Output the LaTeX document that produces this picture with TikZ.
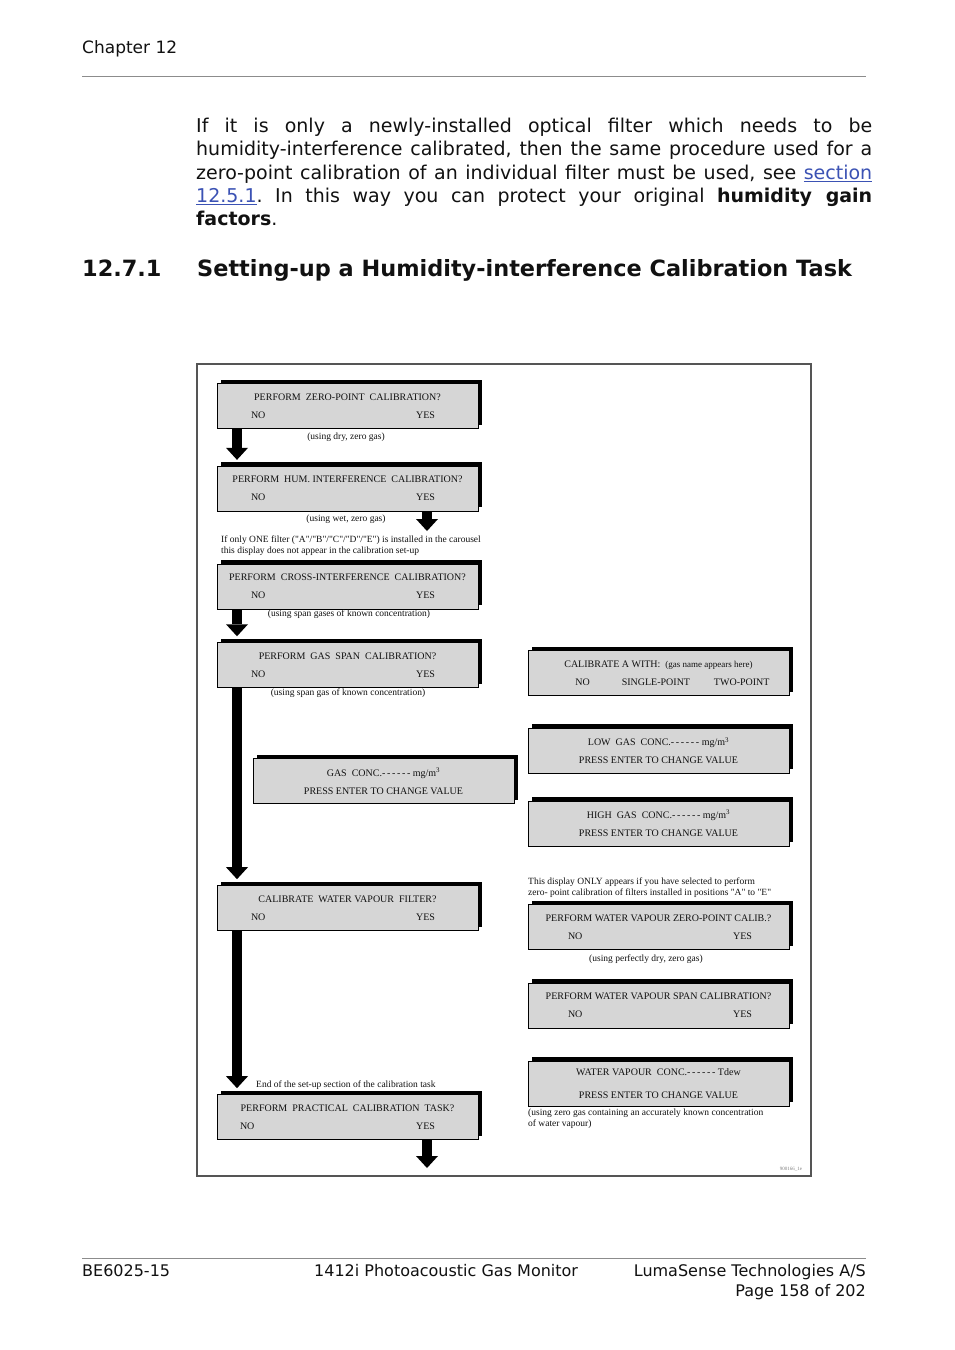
\documentclass[tikz,border=0pt]{standalone}
\usepackage{fontspec}
\setmainfont{Liberation Serif}[Ligatures=TeXOff]
\newfontfamily\pagefont{DejaVu Sans}
\usepackage{tikz}
\usetikzlibrary{arrows.meta, positioning, shadows}
\definecolor{cPanel}{HTML}{D6D6D6}
\definecolor{cFrame}{HTML}{555555}
\definecolor{cRule}{HTML}{8C8C8C}
\definecolor{cLink}{HTML}{3B52B4}
\definecolor{cText}{HTML}{111111}
\newcommand{\dd}{\ \ }
\newcommand{\dashes}{-\,-\,-\,-\,-\,-}
\newcommand{\qq}[1]{\symbol{34}#1\symbol{34}}
% NO ... YES line of a display, #1 = width, #2 = sideways shift
\newcommand{\noyes}[2][184pt]{\hspace*{#2}\makebox[#1]{NO\hfill YES}\hspace*{-#2}}
\frenchspacing

\begin{document}
\begin{tikzpicture}[x=1pt, y=-1pt, node distance=37pt,
  every node/.style={inner sep=0pt, text=cText},
  disp/.style={draw, line width=0.7pt, fill=cPanel, minimum width=261pt, minimum height=45pt, align=center,
    font=\fontsize{10}{18}\selectfont, drop shadow={shadow xshift=4pt, shadow yshift=4pt, opacity=1, fill=black}},
  capt/.style={font=\fontsize{9.5}{11}\selectfont},
  note/.style={font=\fontsize{9.5}{11}\selectfont, align=left, anchor=north west},
  flow/.style={line width=10pt, -{Triangle[width=22pt, length=12pt, line width=0pt]}, shorten >=6pt},
  pg/.style={font=\pagefont\fontsize{16}{19}\selectfont, anchor=base west}]
  \useasboundingbox (0,0) rectangle (954,1350);
  \fill[white] (0,0) rectangle (954,1350);

  % page head
  \node[pg, font=\pagefont\fontsize{17}{19}\selectfont] (chap) at (82,53) {Chapter 12};
  \draw[cRule, line width=0.8pt] (82,76) -- (866,76);
  \node[anchor=north west, text width=676pt, align=justify, font=\pagefont\fontsize{19}{23.3}\selectfont] (intro) at (196,118)
    {\tolerance=10000\hyphenpenalty=10000\exhyphenpenalty=10000
     If it is only a newly-installed optical filter which needs to be\linebreak
     humidity-interference calibrated, then the same procedure used for a\linebreak
     zero-point calibration of an individual filter must be used, see {\color{cLink}\underline{section}}\linebreak
     {\color{cLink}\underline{12.5.1}}. In this way you can protect your original \textbf{humidity gain}\linebreak
     \textbf{factors}.};
  \node[anchor=base west, font=\pagefont\bfseries\fontsize{22.4}{26}\selectfont] (secnum) at (82,276) {12.7.1};
  \node[anchor=base west, font=\pagefont\bfseries\fontsize{22.4}{26}\selectfont] (sectitle) at (197,276) {Setting-up a Humidity-interference Calibration Task};

  % the figure
  \draw[cFrame, line width=1.2pt] (197,364) rectangle (811,1176);
  \node[disp] (zp) at (347.5,406) {PERFORM\dd ZERO-POINT\dd CALIBRATION?\\ \noyes{-4.5pt}};
  \node[disp, below=of zp] (hum) {PERFORM\dd HUM. INTERFERENCE\dd CALIBRATION?\\ \noyes{-4.5pt}};
  \node[disp, below=52pt of hum] (cross) {PERFORM\dd CROSS-INTERFERENCE\dd CALIBRATION?\\ \noyes{-4.5pt}};
  \node[disp, below=33pt of cross] (span) {PERFORM\dd GAS\dd SPAN\dd CALIBRATION?\\ \noyes{-4.5pt}};
  \node[disp] (gasc) at (383.5,781) {GAS\dd CONC.\dashes\ mg/m\textsuperscript{3}\\ PRESS ENTER TO CHANGE VALUE};
  \node[disp] (cwv) at (347.5,908) {CALIBRATE\dd WATER VAPOUR\dd FILTER?\\ \noyes{-4.5pt}};
  \node[disp] (prac) at (347.5,1117) {PERFORM\dd PRACTICAL\dd CALIBRATION\dd TASK?\\ \noyes[195pt]{-10pt}};

  \node[disp] (cala) at (658.5,673) {CALIBRATE A WITH:\dd{\fontsize{9}{9}\selectfont(gas name appears here)}\\
    \hspace*{14pt}\makebox[210pt]{NO\hspace{0pt plus 4fil}SINGLE-POINT\hspace{0pt plus 3fil}TWO-POINT}\hspace*{-14pt}};
  \node[disp, below=32pt of cala] (low) {LOW\dd GAS\dd CONC.\dashes\ mg/m\textsuperscript{3}\\ PRESS ENTER TO CHANGE VALUE};
  \node[disp, below=27pt of low] (high) {HIGH\dd GAS\dd CONC.\dashes\ mg/m\textsuperscript{3}\\ PRESS ENTER TO CHANGE VALUE};
  \node[disp] (wvz) at (658.5,927) {PERFORM WATER VAPOUR ZERO-POINT CALIB.?\\ \noyes{1.5pt}};
  \node[disp, below=33pt of wvz] (wvs) {PERFORM WATER VAPOUR SPAN CALIBRATION?\\ \noyes{1.5pt}};
  \node[disp, below=32pt of wvs] (wvc) {WATER VAPOUR\dd CONC.\dashes\ Tdew\\[5pt] PRESS ENTER TO CHANGE VALUE};

  \node[capt] (zpcap) at (346,437) {(using dry, zero gas)};
  \node[capt] (humcap) at (346,519) {(using wet, zero gas)};
  \node[note] (onenote) at (221,536) {If only ONE filter (\qq{A}/\qq{B}/\qq{C}/\qq{D}/\qq{E}) is installed in the carousel\\
    this display does not appear in the calibration set-up};
  \node[capt] (crosscap) at (349,614) {(using span gases of known concentration)};
  \node[capt] (spancap) at (348,693) {(using span gas of known concentration)};
  \node[note] (wvnote) at (528,878) {This display ONLY appears if you have selected to perform\\
    zero- point calibration of filters installed in positions \qq{A} to \qq{E}};
  \node[capt] (wvzcap) at (646,959) {(using perfectly dry, zero gas)};
  \node[note] (wvccap) at (528,1109) {(using zero gas containing an accurately known concentration\\of water vapour)};
  \node[capt, anchor=base west] (endnote) at (256,1087) {End of the set-up section of the calibration task};
  \node[font=\fontsize{5}{6}\selectfont, text=gray] (figid) at (791,1169) {900166\_1e};

  \coordinate (humend) at (427,531);
  \coordinate (pracend) at (427,1168);
  \draw[flow] ([xshift=-110.5pt]zp.south) -- ([xshift=-110.5pt]hum.north);
  \draw[flow, shorten >=0pt] ([xshift=79.5pt]hum.south) -- (humend);
  \draw[flow] ([xshift=-110.5pt]cross.south) -- ([xshift=-110.5pt]span.north);
  \draw[flow] ([xshift=-110.5pt]span.south) -- ([xshift=-110.5pt]cwv.north);
  \draw[flow] ([xshift=-110.5pt]cwv.south) -- ([xshift=-110.5pt]prac.north);
  \draw[flow, shorten >=0pt] ([xshift=79.5pt]prac.south) -- (pracend);

  % page foot
  \draw[cRule, line width=0.8pt] (82,1258) -- (866,1258);
  \node[pg] (docid) at (82,1276) {BE6025-15};
  \node[pg] (prod) at (314,1276) {1412i Photoacoustic Gas Monitor};
  \node[pg, anchor=base east] (comp) at (866,1276) {LumaSense Technologies A/S};
  \node[pg, anchor=base east] (pageno) at (866,1296) {Page 158 of 202};
\end{tikzpicture}
\end{document}
